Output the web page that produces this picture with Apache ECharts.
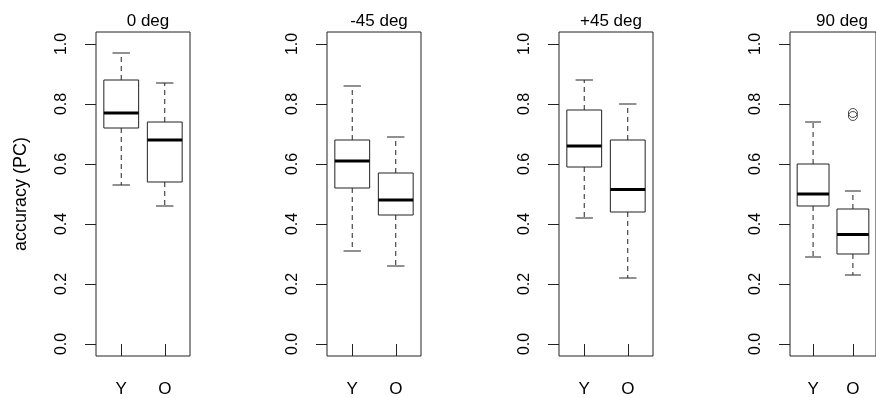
<!DOCTYPE html>
<html>
<head>
<meta charset="utf-8">
<script src="https://cdn.jsdelivr.net/npm/echarts@6/dist/echarts.min.js"></script>
<style>
  html, body { margin: 0; padding: 0; background: #fff; }
  #chart { width: 876px; height: 398px; }
</style>
</head>
<body>
<div id="chart"></div>
<script>
// panel titles and group names
var panelTitles = ['0 deg', '-45 deg', '+45 deg', '90 deg'];
var groups = ['Y', 'O'];
var yTicks = [0, 0.2, 0.4, 0.6, 0.8, 1.0];

// [lower whisker, Q1, median, Q3, upper whisker] for Y then O
var stats0 = [[0.53, 0.72, 0.77, 0.88, 0.97], [0.46, 0.54, 0.68, 0.74, 0.87]];
var stats45m = [[0.31, 0.52, 0.61, 0.68, 0.86], [0.26, 0.43, 0.48, 0.57, 0.69]];
var stats45p = [[0.42, 0.59, 0.66, 0.78, 0.88], [0.22, 0.44, 0.515, 0.68, 0.80]];
var stats90 = [[0.29, 0.46, 0.50, 0.60, 0.74], [0.23, 0.30, 0.365, 0.45, 0.51]];
// outliers: [group position, value]
var outliers90 = [[2, 0.77], [2, 0.76]];

var allStats = [stats0, stats45m, stats45p, stats90];
var panelLeft = [96, 327, 559, 790];
var FONT = '"Liberation Sans", Arial, Helvetica, sans-serif';
var INK = '#222';

function renderBox(params, api) {
  var x = api.value(0);
  var cx = api.coord([x, 0])[0];
  var yLo = api.coord([x, api.value(1)])[1];
  var yQ1 = api.coord([x, api.value(2)])[1];
  var yMed = api.coord([x, api.value(3)])[1];
  var yQ3 = api.coord([x, api.value(4)])[1];
  var yHi = api.coord([x, api.value(5)])[1];
  var halfBox = api.size([0.8, 0])[0] / 2;
  var halfCap = halfBox / 2;
  var dashed = { stroke: INK, lineWidth: 1, lineDash: [5, 4] };
  var solid = { stroke: INK, lineWidth: 1 };
  return {
    type: 'group',
    children: [
      { type: 'line', shape: { x1: cx, y1: yQ3, x2: cx, y2: yHi }, style: dashed },
      { type: 'line', shape: { x1: cx, y1: yQ1, x2: cx, y2: yLo }, style: dashed },
      { type: 'line', shape: { x1: cx - halfCap, y1: yHi, x2: cx + halfCap, y2: yHi }, style: solid },
      { type: 'line', shape: { x1: cx - halfCap, y1: yLo, x2: cx + halfCap, y2: yLo }, style: solid },
      { type: 'rect', shape: { x: cx - halfBox, y: yQ3, width: halfBox * 2, height: yQ1 - yQ3 },
        style: { fill: '#fff', stroke: INK, lineWidth: 1 } },
      { type: 'line', shape: { x1: cx - halfBox, y1: yMed, x2: cx + halfBox, y2: yMed },
        style: { stroke: '#000', lineWidth: 3 } }
    ]
  };
}

var titles = [], grids = [], xAxes = [], yAxes = [], series = [];
for (var i = 0; i < 4; i++) {
  titles.push({
    text: panelTitles[i],
    left: panelLeft[i] + 47,
    top: 8,
    textAlign: 'center',
    textStyle: { fontFamily: FONT, fontSize: 17, fontWeight: 'normal', color: '#000' }
  });
  grids.push({
    left: panelLeft[i], top: 32, width: 94, height: 326,
    show: true, borderColor: INK, borderWidth: 1, backgroundColor: 'transparent'
  });
  xAxes.push({
    type: 'value', gridIndex: i, min: 0.42, max: 2.58,
    axisLine: { show: false },
    splitLine: { show: false },
    axisTick: { show: true, length: 12, customValues: [1, 2], lineStyle: { color: INK } },
    axisLabel: {
      customValues: [1, 2], margin: 25,
      fontFamily: FONT, fontSize: 17, color: '#000',
      formatter: function (v) { return groups[Math.round(v) - 1]; }
    }
  });
  yAxes.push({
    type: 'value', gridIndex: i, min: -0.04, max: 1.04,
    name: i === 0 ? 'accuracy (PC)' : '',
    nameLocation: 'middle', nameGap: 66, nameRotate: 90,
    nameTextStyle: { fontFamily: FONT, fontSize: 18, color: '#000' },
    axisLine: { show: false },
    splitLine: { show: false },
    axisTick: { show: true, length: 11, customValues: yTicks, lineStyle: { color: INK } },
    axisLabel: {
      customValues: yTicks, rotate: 90, margin: 26,
      fontFamily: FONT, fontSize: 16, color: '#000',
      formatter: function (v) { return v.toFixed(1); }
    }
  });
  var stats = allStats[i];
  series.push({
    type: 'custom', xAxisIndex: i, yAxisIndex: i,
    renderItem: renderBox,
    encode: { x: 0, y: [1, 2, 3, 4, 5] },
    data: stats.map(function (s, k) { return [k + 1].concat(s); })
  });
}
series.push({
  type: 'scatter', xAxisIndex: 3, yAxisIndex: 3,
  symbol: 'circle', symbolSize: 9,
  itemStyle: { color: 'transparent', borderColor: INK, borderWidth: 1 },
  data: outliers90
});

var chart = echarts.init(document.getElementById('chart'));
chart.setOption({
  animation: false,
  backgroundColor: '#fff',
  title: titles,
  grid: grids,
  xAxis: xAxes,
  yAxis: yAxes,
  series: series
});
</script>
</body>
</html>
